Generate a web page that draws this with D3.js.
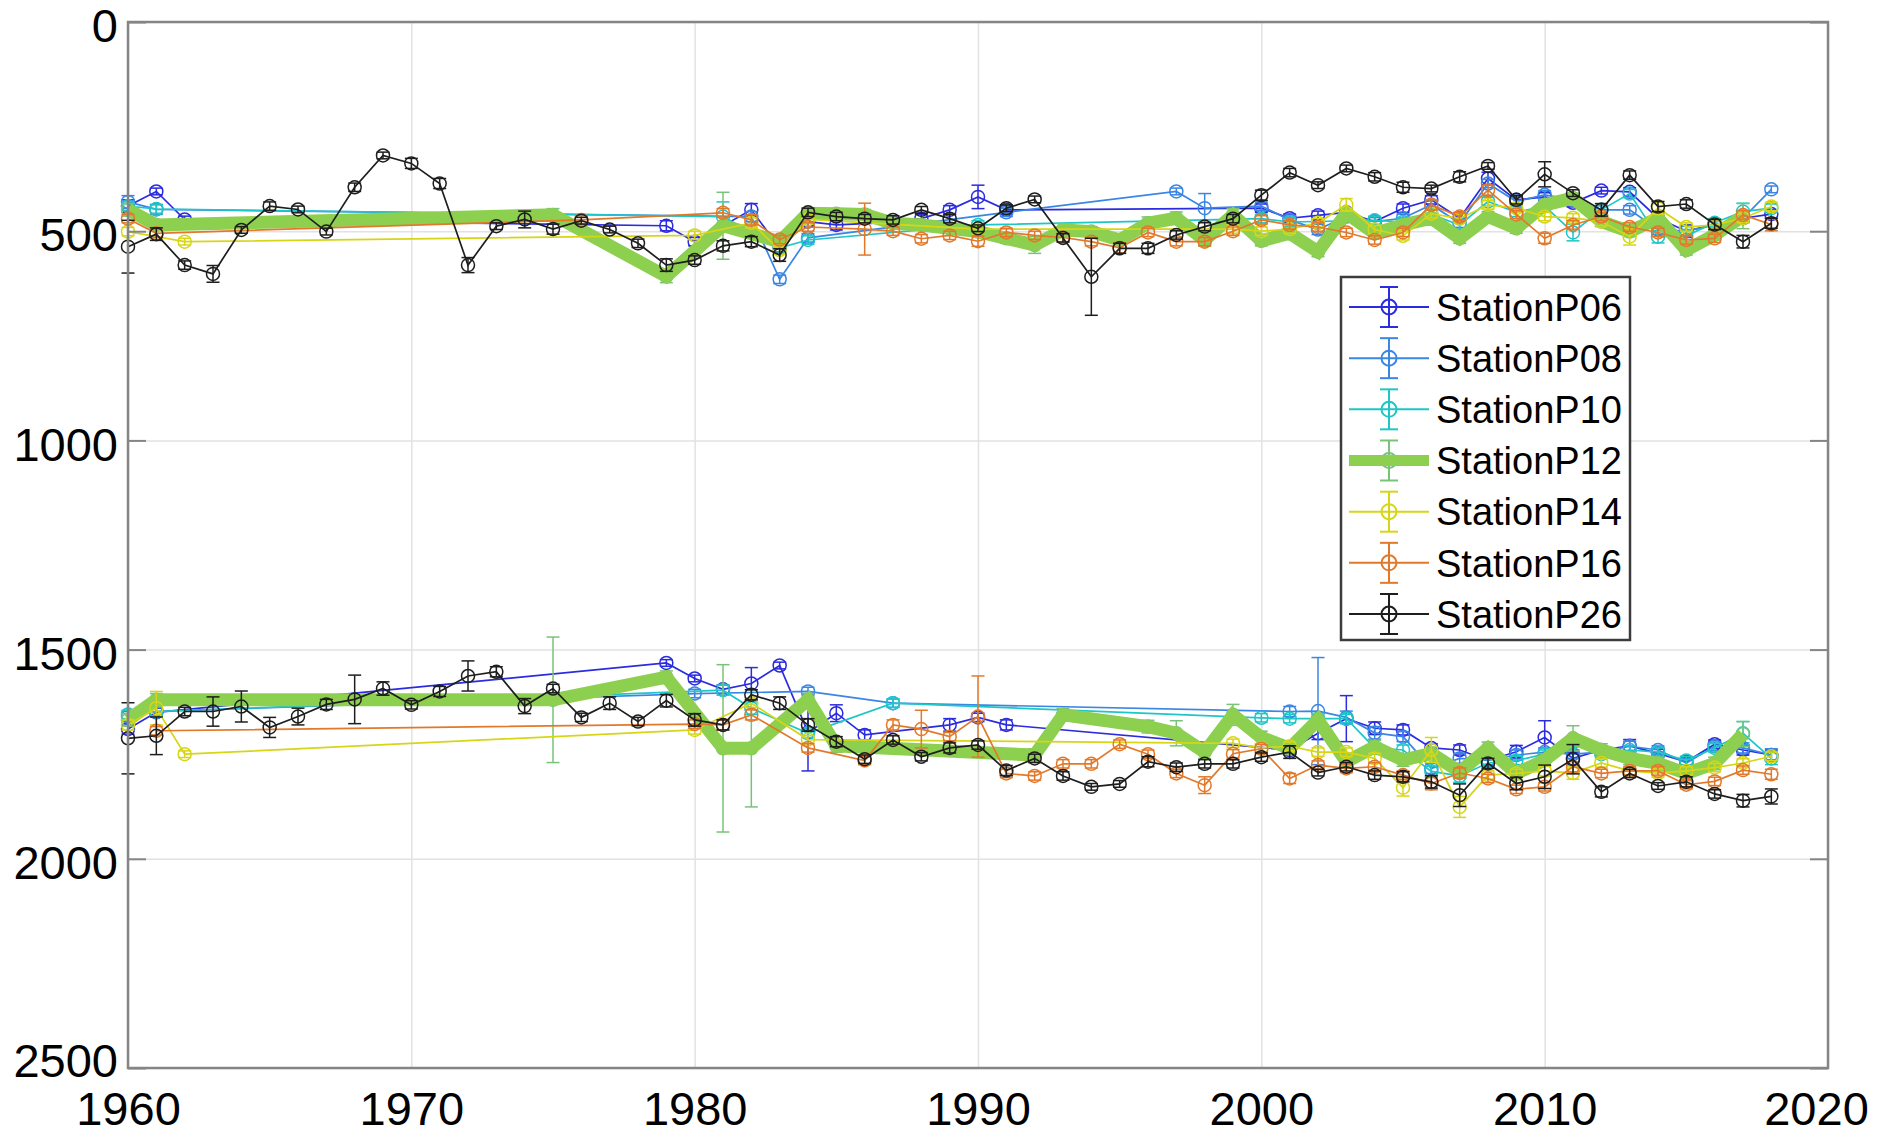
<!DOCTYPE html>
<html>
<head>
<meta charset="utf-8">
<script src="https://cdn.jsdelivr.net/npm/d3@7"></script>
<style>
  body { margin: 0; background: #fff; }
  svg { display: block; }
  text { font-family: "Liberation Sans", Arial, Helvetica, sans-serif; fill: #000; }
</style>
</head>
<body>
<svg id="chart" width="1883" height="1135"></svg>
<script>
// ---- labels and ticks ----
const stationNames = ["StationP06", "StationP08", "StationP10", "StationP12", "StationP14", "StationP16", "StationP26"];
const xTickValues = [1960, 1970, 1980, 1990, 2000, 2010, 2020];
const yTickValues = [0, 500, 1000, 1500, 2000, 2500];

// ---- StationP06 ----
const yrsP06u = [1960,1961,1962,1979,1980,1982,1983,1984,1985,1987,1988,1989,1990,1991,2000,2001,2002,2003,2004,2005,2006,2007,2008,2009,2010,2011,2012,2013,2014,2015,2016,2017,2018];
const depP06u = [440,405,472,487,525,449,540,477,485,479,470,449,418,449,445,469,462,455,477,445,425,469,374,425,418,432,403,406,469,500,484,469,459];
const errP06u = [15,8,8,12,10,15,10,10,12,10,10,10,28,10,10,10,10,10,10,10,10,10,15,10,10,10,8,10,12,15,10,10,10];
const yrsP06l = [1960,1961,1979,1980,1981,1982,1983,1984,1985,1986,1989,1990,1991,2001,2002,2003,2004,2005,2006,2007,2008,2009,2010,2011,2012,2013,2014,2015,2016,2017,2018];
const depP06l = [1690,1650,1532,1569,1595,1581,1538,1698,1652,1704,1680,1662,1680,1740,1700,1665,1688,1692,1735,1740,1765,1744,1710,1760,1740,1730,1748,1768,1726,1740,1752];
const errP06l = [12,10,8,8,10,38,8,92,20,12,15,10,12,10,15,55,15,12,10,12,10,15,40,15,10,15,10,10,10,12,12];

// ---- StationP08 ----
const yrsP08u = [1960,1961,1982,1983,1984,1991,1997,1998,2000,2001,2002,2003,2004,2005,2006,2007,2008,2009,2010,2011,2012,2013,2014,2015,2016,2017,2018];
const depP08u = [430,448,465,615,516,455,405,445,440,473,496,465,477,469,437,481,386,429,413,425,449,449,496,500,485,469,400];
const errP08u = [15,12,12,10,10,10,8,35,10,10,12,10,10,10,10,10,10,10,10,10,10,10,12,12,10,10,8];
const yrsP08l = [1960,1961,1980,1984,1987,2001,2002,2003,2004,2005,2006,2007,2008,2009,2010,2011,2012,2013,2014,2015,2016,2017,2018];
const depP08l = [1660,1648,1605,1600,1628,1648,1647,1662,1699,1708,1784,1760,1765,1752,1745,1750,1745,1731,1740,1771,1731,1735,1752];
const errP08l = [12,10,10,10,10,12,128,15,15,12,12,12,10,12,10,10,10,12,10,10,10,12,15];

// ---- StationP10 ----
const yrsP10u = [1960,1961,1981,1983,1984,1990,2000,2001,2004,2005,2006,2007,2008,2009,2010,2011,2012,2013,2014,2015,2016,2017,2018];
const depP10u = [440,447,465,540,521,485,470,478,474,478,460,485,429,455,440,503,449,410,513,511,480,453,445];
const errP10u = [10,10,35,12,10,10,10,10,10,10,10,10,10,10,10,20,10,10,15,15,10,20,10];
const yrsP10l = [1960,1961,1981,1982,1984,1987,2000,2001,2002,2003,2004,2005,2006,2007,2008,2009,2010,2011,2012,2013,2014,2015,2016,2017,2018];
const depP10l = [1655,1648,1597,1640,1700,1628,1663,1665,1665,1665,1735,1740,1791,1802,1771,1765,1750,1722,1750,1740,1745,1765,1735,1700,1760];
const errP10l = [10,10,12,15,10,10,10,10,10,10,12,12,12,15,10,10,10,10,10,10,10,10,10,28,15];

// ---- StationP12 ----
const yrsP12u = [1960,1961,1975,1979,1981,1983,1984,1985,1986,1987,1988,1989,1990,1991,1992,1993,1994,1995,1996,1997,1998,1999,2000,2001,2002,2003,2004,2005,2006,2007,2008,2009,2010,2011,2012,2013,2014,2015,2016,2017];
const depP12u = [449,485,461,608,487,525,457,458,460,481,485,493,501,517,533,497,501,521,481,469,521,461,523,505,549,457,505,485,469,517,465,493,437,421,477,501,469,545,509,464];
const errP12u = [15,12,15,15,80,15,12,12,12,12,12,12,12,12,20,15,12,12,15,15,15,15,12,12,12,12,12,12,12,12,12,12,12,12,12,12,12,12,12,30];
const yrsP12l = [1960,1961,1975,1979,1981,1982,1984,1985,1992,1993,1996,1997,1998,1999,2000,2001,2002,2003,2004,2005,2006,2007,2008,2009,2010,2011,2012,2013,2014,2015,2016,2017];
const depP12l = [1668,1620,1620,1566,1736,1736,1620,1730,1752,1656,1684,1700,1745,1656,1710,1736,1668,1768,1732,1764,1748,1792,1736,1796,1764,1712,1740,1760,1772,1796,1772,1702];
const errP12l = [15,15,150,15,200,140,15,15,15,15,15,30,15,25,15,15,15,15,15,15,15,15,15,15,15,30,15,15,15,15,15,30];

// ---- StationP14 ----
const yrsP14u = [1960,1962,1980,1982,1983,1984,1990,1999,2000,2001,2002,2003,2004,2005,2006,2007,2008,2009,2010,2011,2012,2013,2014,2015,2016,2017,2018];
const depP14u = [501,525,510,480,545,472,495,495,500,495,480,437,496,511,458,470,437,445,465,468,477,513,445,490,485,469,441];
const errP14u = [10,8,10,12,10,10,10,10,10,10,10,15,10,10,10,10,10,10,10,10,10,20,15,10,10,10,10];
const yrsP14l = [1960,1961,1962,1980,1982,1984,1999,2000,2001,2002,2003,2004,2005,2006,2007,2008,2009,2010,2011,2012,2013,2014,2015,2016,2017,2018];
const depP14l = [1680,1640,1750,1692,1628,1715,1724,1735,1731,1745,1745,1760,1830,1740,1876,1800,1796,1790,1795,1771,1790,1795,1790,1782,1771,1755];
const errP14l = [12,40,8,10,10,10,10,10,10,10,10,12,20,30,25,10,10,12,15,10,10,10,10,10,10,10];

// ---- StationP16 ----
const yrsP16u = [1960,1961,1976,1981,1982,1983,1984,1986,1987,1988,1989,1990,1991,1992,1993,1994,1995,1996,1997,1998,1999,2000,2001,2002,2003,2004,2005,2006,2007,2008,2009,2010,2011,2012,2013,2014,2015,2016,2017,2018];
const depP16u = [470,505,473,456,473,520,490,495,500,518,510,524,503,510,515,525,540,503,525,525,500,473,485,490,503,521,503,437,465,402,460,517,485,465,490,503,521,517,461,484];
const errP16u = [10,10,10,10,12,10,10,62,10,10,10,12,10,10,10,10,12,10,10,10,10,10,10,10,10,10,10,12,10,12,10,12,10,10,10,10,10,10,10,15];
const yrsP16l = [1961,1980,1981,1982,1984,1986,1987,1988,1989,1990,1991,1992,1993,1994,1995,1996,1997,1998,1999,2000,2001,2002,2003,2004,2005,2006,2007,2008,2009,2010,2011,2012,2013,2014,2015,2016,2017,2018];
const depP16l = [1694,1678,1680,1656,1735,1765,1680,1690,1708,1660,1796,1802,1773,1773,1726,1750,1796,1824,1749,1737,1808,1776,1784,1780,1800,1820,1795,1808,1834,1828,1780,1796,1790,1790,1823,1815,1788,1798];
const errP16l = [10,10,12,12,10,10,12,45,10,97,10,10,10,10,10,10,10,20,10,10,12,10,10,10,10,15,12,10,10,10,12,10,10,10,10,10,10,12];

// ---- StationP26 (every year 1960-2018) ----
const yrsP26 = d3.range(1960, 2019);
const depP26u = [537,507,581,602,497,440,448,501,395,319,338,386,581,488,472,495,475,496,529,581,569,535,525,557,455,465,470,473,449,470,493,445,424,516,609,541,541,509,489,470,414,360,390,350,370,395,398,370,344,425,364,409,449,366,441,435,484,525,481];
const errP26u = [63,15,10,20,8,10,8,8,10,8,12,12,18,8,20,12,8,8,10,15,10,12,12,15,10,10,10,10,8,10,8,8,8,10,92,12,12,10,10,10,12,10,8,8,10,12,8,12,8,10,30,8,15,10,12,10,12,15,12];
const depP26l = [1712,1706,1648,1648,1636,1686,1660,1631,1619,1593,1632,1600,1563,1553,1635,1593,1662,1628,1672,1622,1668,1680,1608,1628,1680,1720,1762,1716,1756,1735,1728,1789,1760,1802,1828,1821,1768,1781,1773,1773,1757,1745,1794,1780,1800,1804,1816,1848,1772,1820,1804,1762,1840,1796,1826,1816,1845,1861,1851];
const errP26l = [85,45,10,35,37,24,20,12,58,16,10,12,36,12,18,10,10,15,10,15,15,12,12,15,15,12,10,10,10,12,10,12,10,10,8,8,12,10,10,10,10,15,8,10,10,12,15,27,12,15,28,35,12,10,8,12,10,15,18];

// ---- drawing styles ----
const colorP06 = "#2b2bdf";
const colorP08 = "#3a86e4";
const colorP10 = "#1fc6c6";
const colorP12 = "#8dcf4e";
const colorP12Bars = "#78c378";
const colorP14 = "#d6d616";
const colorP16 = "#e2792a";
const colorP26 = "#1e1e1e";

// Table of stations built from the arrays above
const stationTable = [
  { name: stationNames[0], color: colorP06, bar: colorP06, lw: 1.7, parts: [[yrsP06u, depP06u, errP06u], [yrsP06l, depP06l, errP06l]] },
  { name: stationNames[1], color: colorP08, bar: colorP08, lw: 1.7, parts: [[yrsP08u, depP08u, errP08u], [yrsP08l, depP08l, errP08l]] },
  { name: stationNames[2], color: colorP10, bar: colorP10, lw: 1.7, parts: [[yrsP10u, depP10u, errP10u], [yrsP10l, depP10l, errP10l]] },
  { name: stationNames[3], color: colorP12, bar: colorP12Bars, lw: 13, parts: [[yrsP12u, depP12u, errP12u], [yrsP12l, depP12l, errP12l]] },
  { name: stationNames[4], color: colorP14, bar: colorP14, lw: 1.7, parts: [[yrsP14u, depP14u, errP14u], [yrsP14l, depP14l, errP14l]] },
  { name: stationNames[5], color: colorP16, bar: colorP16, lw: 1.7, parts: [[yrsP16u, depP16u, errP16u], [yrsP16l, depP16l, errP16l]] },
  { name: stationNames[6], color: colorP26, bar: colorP26, lw: 1.7, parts: [[yrsP26, depP26u, errP26u], [yrsP26, depP26l, errP26l]] }
];

// ---- layout ----
const svg = d3.select("#chart");
const plot = { left: 128, top: 22, right: 1828, bottom: 1068 };
const x = d3.scaleLinear().domain([1960, 2020]).range([plot.left, plot.right]);
const y = d3.scaleLinear().domain([0, 2500]).range([plot.top, plot.bottom]);

// grid lines
const gridColor = "#e2e2e2";
svg.append("g")
  .attr("transform", `translate(0,${plot.bottom})`)
  .call(d3.axisBottom(x).tickValues(xTickValues).tickSize(-(plot.bottom - plot.top)).tickFormat(""))
  .call(g => g.select(".domain").remove())
  .call(g => g.selectAll("line").attr("stroke", gridColor).attr("stroke-width", 1.5));
svg.append("g")
  .attr("transform", `translate(${plot.left},0)`)
  .call(d3.axisLeft(y).tickValues(yTickValues).tickSize(-(plot.right - plot.left)).tickFormat(""))
  .call(g => g.select(".domain").remove())
  .call(g => g.selectAll("line").attr("stroke", gridColor).attr("stroke-width", 1.5));

// ---- data ----
const dataLayer = svg.append("g");
const capHalf = 6.5;
const lineGen = d3.line().x(d => x(d.yr)).y(d => y(d.v));

function drawPart(g, st, part) {
  const [yrs, vals, errs] = part;
  const pts = yrs.map((yr, i) => ({ yr, v: vals[i], e: errs[i] }));
  const barW = 1.5;
  const bars = g.append("g").attr("stroke", st.bar).attr("stroke-width", barW).attr("fill", "none");
  pts.forEach(p => {
    const cx = x(p.yr), y0 = y(p.v - p.e), y1 = y(p.v + p.e);
    bars.append("line").attr("x1", cx).attr("x2", cx).attr("y1", y0).attr("y2", y1);
    bars.append("line").attr("x1", cx - capHalf).attr("x2", cx + capHalf).attr("y1", y0).attr("y2", y0);
    bars.append("line").attr("x1", cx - capHalf).attr("x2", cx + capHalf).attr("y1", y1).attr("y2", y1);
  });
  g.append("g").selectAll("circle").data(pts).join("circle")
    .attr("cx", d => x(d.yr)).attr("cy", d => y(d.v)).attr("r", 6.5)
    .attr("fill", "none").attr("stroke", st.bar).attr("stroke-width", 1.5);
  g.append("path").datum(pts)
    .attr("d", lineGen)
    .attr("fill", "none")
    .attr("stroke", st.color)
    .attr("stroke-width", st.lw)
    .attr("stroke-linejoin", "miter")
    .attr("stroke-miterlimit", 3);
}

stationTable.forEach(st => {
  const g = dataLayer.append("g").attr("class", "station");
  st.parts.forEach(part => drawPart(g, st, part));
});

// ---- axes box, ticks, labels ----
const axisColor = "#858585";
const tickLen = 18;
const labelSize = 47;

const yAxisLeft = svg.append("g")
  .attr("transform", `translate(${plot.left},0)`)
  .call(d3.axisLeft(y).tickValues(yTickValues).tickSizeInner(-tickLen).tickSizeOuter(0).tickPadding(10).tickFormat(d3.format("d")));
yAxisLeft.select(".domain").remove();
yAxisLeft.selectAll("line").attr("stroke", axisColor).attr("stroke-width", 2);
yAxisLeft.selectAll("text")
  .attr("font-size", labelSize)
  .attr("dy", "0.42em")
  .attr("fill", "#000");
yAxisLeft.selectAll(".tick").filter(d => d === 2500).select("text").attr("dy", "0.18em");

const yAxisRight = svg.append("g")
  .attr("transform", `translate(${plot.right},0)`)
  .call(d3.axisRight(y).tickValues(yTickValues).tickSizeInner(-tickLen).tickSizeOuter(0).tickFormat(""));
yAxisRight.select(".domain").remove();
yAxisRight.selectAll("line").attr("stroke", axisColor).attr("stroke-width", 2);

const xAxis = svg.append("g")
  .attr("transform", `translate(0,${plot.bottom})`)
  .call(d3.axisBottom(x).tickValues(xTickValues).tickSize(0).tickPadding(24).tickFormat(d3.format("d")));
xAxis.select(".domain").remove();
xAxis.selectAll("text").attr("font-size", labelSize).attr("fill", "#000");
xAxis.selectAll(".tick").filter(d => d === 2020).select("text").attr("dx", -12);

svg.append("rect")
  .attr("x", plot.left).attr("y", plot.top)
  .attr("width", plot.right - plot.left).attr("height", plot.bottom - plot.top)
  .attr("fill", "none").attr("stroke", axisColor).attr("stroke-width", 2.5);

// ---- legend ----
const legend = svg.append("g").attr("transform", "translate(1341,277)");
const legendW = 289, legendH = 363;
legend.append("rect").attr("width", legendW).attr("height", legendH)
  .attr("fill", "#fff").attr("stroke", "#3c3c3c").attr("stroke-width", 2.5);
const rowY = d3.scaleLinear().domain([0, stationTable.length - 1]).range([30, 337]);
stationTable.forEach((st, i) => {
  const ry = rowY(i);
  const row = legend.append("g").attr("transform", `translate(0,${ry})`);
  const mx = 48;
  row.append("line").attr("x1", mx).attr("x2", mx).attr("y1", -20).attr("y2", 20)
    .attr("stroke", st.bar).attr("stroke-width", 2);
  row.append("line").attr("x1", mx - 9).attr("x2", mx + 9).attr("y1", -20).attr("y2", -20)
    .attr("stroke", st.bar).attr("stroke-width", 2);
  row.append("line").attr("x1", mx - 9).attr("x2", mx + 9).attr("y1", 20).attr("y2", 20)
    .attr("stroke", st.bar).attr("stroke-width", 2);
  row.append("circle").attr("cx", mx).attr("cy", 0).attr("r", 7.5)
    .attr("fill", "none").attr("stroke", st.bar).attr("stroke-width", 2);
  row.append("line").attr("x1", 8).attr("x2", 88).attr("y1", 0).attr("y2", 0)
    .attr("stroke", st.color).attr("stroke-width", st.lw > 5 ? 11 : 2);
  row.append("text").attr("x", 95).attr("y", 0).attr("dy", "0.36em")
    .attr("font-size", 38).text(st.name);
});
</script>
</body>
</html>
